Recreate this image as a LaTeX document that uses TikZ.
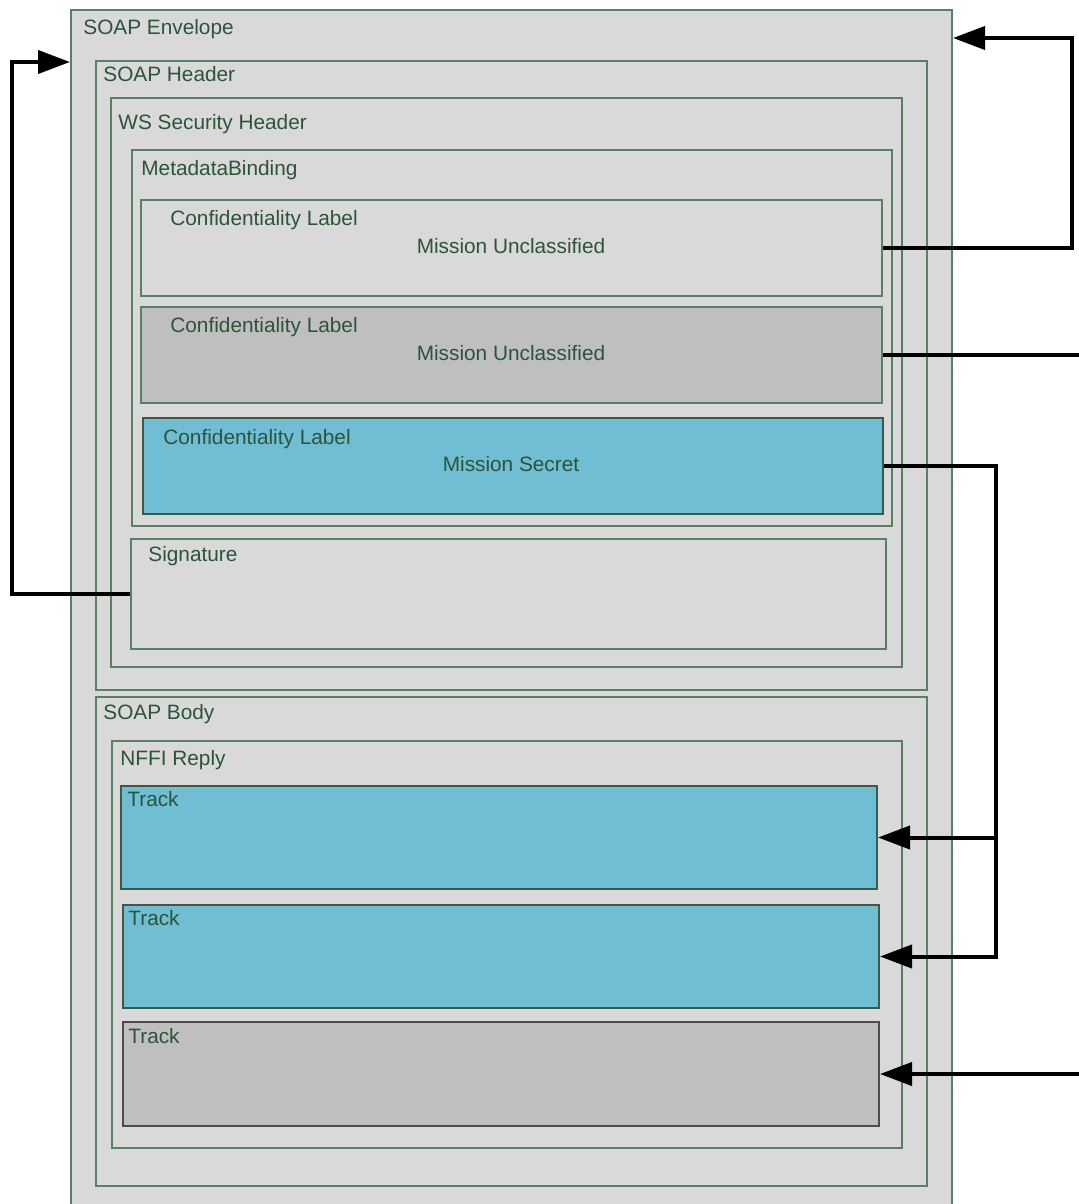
\documentclass[tikz,border=0pt]{standalone}
\usepackage{fontspec}
\setmainfont{Liberation Sans}
\usepackage{tikz}
\usetikzlibrary{arrows.meta,fit}
\definecolor{boxgreen}{RGB}{88,128,100}
\definecolor{txtgreen}{RGB}{44,84,58}
\definecolor{panel}{RGB}{217,217,217}
\definecolor{dimgrey}{RGB}{191,191,191}
\definecolor{secret}{RGB}{111,190,212}

\begin{document}
\begin{tikzpicture}[x=0.5pt,y=-0.5pt,layer/.style={draw=boxgreen,line width=1pt,fill=panel,inner sep=0pt},layerG/.style={layer,fill=dimgrey},layerS/.style={layer,fill=secret,draw=boxgreen!70!black},trackG/.style={layer,fill=dimgrey,draw=black!70},tag/.style={anchor=base west,inner sep=0pt,text=txtgreen,font=\fontsize{10.4}{12}\selectfont},value/.style={tag,anchor=base},wire/.style={line width=2pt,black},feed/.style={wire,-{Triangle[length=16pt,width=11.5pt]}}]
\useasboundingbox (0,0) rectangle (1078,1204);

\node[layer,fit={(71,10)(952,1230)}] (env) {};
\node[layer,fit={(96,61)(927,690)}] (hdr) {};
\node[layer,fit={(111,98)(902,667)}] (wss) {};
\node[layer,fit={(132,150)(892,526)}] (mdb) {};
\node[layer,fit={(141,200)(882,296)}] (cl1) {};
\node[layerG,fit={(141,307)(882,403)}] (cl2) {};
\node[layerS,fit={(143,418)(883,514)}] (cl3) {};
\node[layer,fit={(131,539)(886,649)}] (sig) {};
\node[layer,fit={(96,697)(927,1186)}] (body) {};
\node[layer,fit={(112,741)(902,1148)}] (nffi) {};
\node[layerS,fit={(121,786)(877,889)}] (trk1) {};
\node[layerS,fit={(123,905)(879,1008)}] (trk2) {};
\node[trackG,fit={(123,1022)(879,1126)}] (trk3) {};

\node[tag] (envT) at (83,35) {SOAP Envelope};
\node[tag] (hdrT) at (103,82) {SOAP Header};
\node[tag] (wssT) at (118,130) {WS Security Header};
\node[tag] (mdbT) at (141,175) {MetadataBinding};
\node[tag] (cl1T) at (170,225) {Confidentiality Label};
\node[value] (cl1V) at (511,253) {Mission Unclassified};
\node[tag] (cl2T) at (170,332) {Confidentiality Label};
\node[value] (cl2V) at (511,360) {Mission Unclassified};
\node[tag] (cl3T) at (163,444) {Confidentiality Label};
\node[value] (cl3V) at (511,471) {Mission Secret};
\node[tag] (sigT) at (148,561) {Signature};
\node[tag] (bodyT) at (103,719) {SOAP Body};
\node[tag] (nffiT) at (120,765) {NFFI Reply};
\node[tag] (trk1T) at (127,806) {Track};
\node[tag] (trk2T) at (128,925) {Track};
\node[tag] (trk3T) at (128,1043) {Track};

% bends of the connectors
\coordinate (bendA) at (1072,38);
\coordinate (edgeB) at (1080,0);
\coordinate (bendC) at (996,0);
\coordinate (bendE) at (12,62);

\draw[feed] (cl1.east) -| (bendA) -- (env.east |- bendA);
\draw[wire] (cl2.east) -- (cl2.east -| edgeB);
\draw[feed] (cl3.east) -| (trk2.east -| bendC) -- (trk2.east);
\draw[feed] (trk1.east -| bendC) -- (trk1.east);
\draw[feed] (trk3.east -| edgeB) -- (trk3.east);
\draw[feed] (sig.west) -| (bendE) -- (env.west |- bendE);

\end{tikzpicture}
\end{document}
